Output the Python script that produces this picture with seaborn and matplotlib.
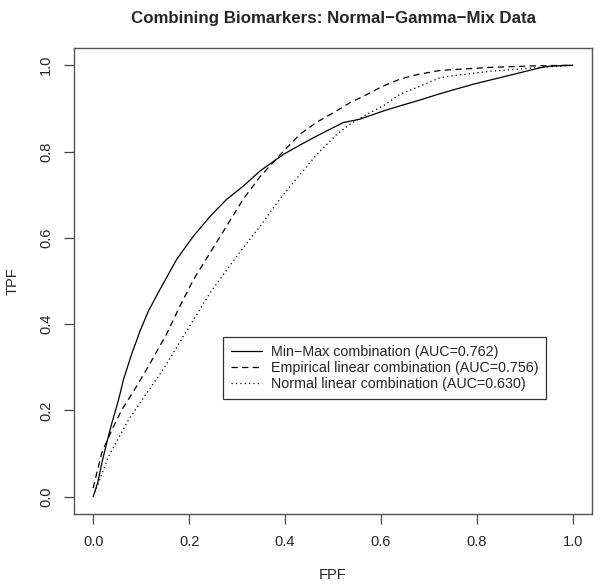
import seaborn as sns
import matplotlib.pyplot as plt
import pandas as pd

# ROC curves
minmax_fpf = [0.0, 0.01, 0.018, 0.028, 0.039, 0.053, 0.063, 0.08, 0.098, 0.115, 0.14, 0.174,
              0.209, 0.244, 0.278, 0.313, 0.348, 0.396, 0.431, 0.466, 0.521, 0.556, 0.605,
              0.64, 0.674, 0.723, 0.792, 0.862, 0.931, 0.952, 1.0]
minmax_tpf = [0.0, 0.035, 0.078, 0.124, 0.171, 0.225, 0.271, 0.33, 0.385, 0.43, 0.482, 0.55,
              0.604, 0.65, 0.689, 0.72, 0.755, 0.793, 0.815, 0.836, 0.867, 0.875, 0.894,
              0.906, 0.917, 0.934, 0.956, 0.975, 0.994, 0.998, 1.0]

emp_fpf = [0.0, 0.004, 0.018, 0.039, 0.06, 0.095, 0.119, 0.153, 0.18, 0.209, 0.244, 0.278,
           0.313, 0.348, 0.396, 0.431, 0.466, 0.501, 0.535, 0.57, 0.605, 0.64, 0.674, 0.723,
           0.827, 0.931, 1.0]
emp_tpf = [0.02, 0.039, 0.102, 0.155, 0.202, 0.264, 0.31, 0.377, 0.44, 0.503, 0.566, 0.627,
           0.69, 0.742, 0.80, 0.84, 0.868, 0.89, 0.913, 0.932, 0.952, 0.968, 0.978, 0.988,
           0.995, 0.999, 1.0]

norm_fpf = [0.0, 0.032, 0.074, 0.129, 0.146, 0.188, 0.244, 0.299, 0.348, 0.383, 0.417, 0.466,
            0.508, 0.535, 0.57, 0.605, 0.64, 0.674, 0.723, 0.744, 0.827, 0.931, 1.0]
norm_tpf = [0.0, 0.093, 0.179, 0.268, 0.295, 0.372, 0.473, 0.557, 0.627, 0.681, 0.728, 0.793,
            0.84, 0.863, 0.886, 0.906, 0.933, 0.948, 0.971, 0.975, 0.986, 0.995, 1.0]

labels = ["Min\u2212Max combination (AUC=0.762)",
          "Empirical linear combination (AUC=0.756)",
          "Normal linear combination (AUC=0.630)"]
ticks = [0.0, 0.2, 0.4, 0.6, 0.8, 1.0]
tick_labels = ["0.0", "0.2", "0.4", "0.6", "0.8", "1.0"]

sns.set_style("white")
plt.rcParams['font.family'] = ['Liberation Sans', 'DejaVu Sans']

fig = plt.figure(figsize=(6, 5.84), dpi=100)
ax = fig.add_axes([74 / 600, 70 / 584, 518 / 600, 466 / 584])

series = [(minmax_fpf, minmax_tpf, "-"),
          (emp_fpf, emp_tpf, (0, (5, 3.5))),
          (norm_fpf, norm_tpf, (0, (1, 2.5)))]
for (fx, ty, ls), lab in zip(series, labels):
    df = pd.DataFrame({"FPF": fx, "TPF": ty})
    sns.lineplot(data=df, x="FPF", y="TPF", ax=ax, color="black", linestyle=ls,
                 linewidth=0.9, estimator=None, label=lab)

ax.set_xlim(-0.04, 1.04)
ax.set_ylim(-0.04, 1.04)
ax.set_xticks(ticks)
ax.set_xticklabels(tick_labels)
ax.set_yticks(ticks)
ax.set_yticklabels(tick_labels, rotation=90, va="center")
ax.tick_params(axis="both", direction="out", length=7, width=0.9, color="#444444",
               labelsize=10.5, pad=8, left=True, bottom=True)
for sp in ax.spines.values():
    sp.set_visible(True)
    sp.set_color("#555555")
    sp.set_linewidth(1.0)

ax.set_xlabel("FPF", fontsize=10.5, labelpad=14)
ax.set_ylabel("TPF", fontsize=10.5, labelpad=14)
# title centred over the plot region, like base R graphics
fig.text(333 / 600, 1 - 18 / 584, "Combining Biomarkers: Normal\u2212Gamma\u2212Mix Data",
         fontsize=12.2, fontweight="bold", ha="center", va="center")

leg = ax.legend(loc="upper left", bbox_to_anchor=(0.27, 0.37), bbox_transform=ax.transData,
                fontsize=10.3, frameon=True, fancybox=False, edgecolor="black",
                handlelength=2.2, handletextpad=0.6, labelspacing=0.15, borderpad=0.55,
                borderaxespad=0)
leg.get_frame().set_linewidth(0.9)

fig.savefig("out.png", dpi=100)
